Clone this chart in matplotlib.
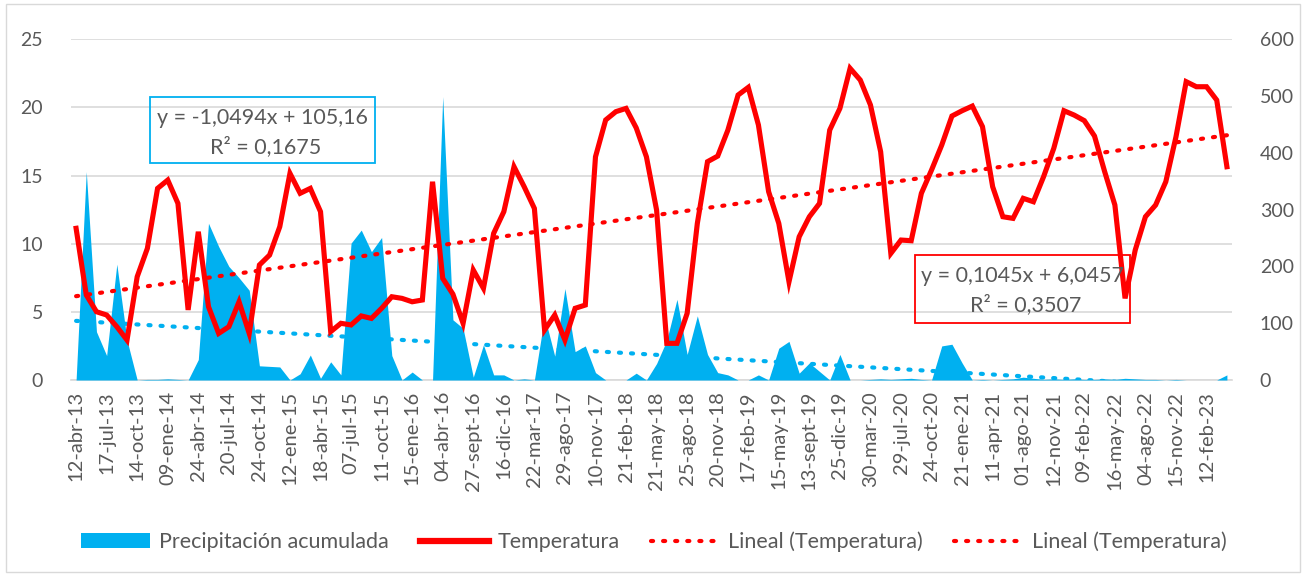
import numpy as np
import matplotlib
matplotlib.use("Agg")
import matplotlib.pyplot as plt
from matplotlib.patches import Rectangle, Patch
from matplotlib.lines import Line2D

plt.rcParams['font.family'] = ['Lato', 'DejaVu Sans']

# category labels (one every third point)
tick_labels = ["12-abr-13", "17-jul-13", "14-oct-13", "09-ene-14", "24-abr-14", "20-jul-14",
               "24-oct-14", "12-ene-15", "18-abr-15", "07-jul-15", "11-oct-15", "15-ene-16",
               "04-abr-16", "27-sept-16", "16-dic-16", "22-mar-17", "29-ago-17", "10-nov-17",
               "21-feb-18", "21-may-18", "25-ago-18", "20-nov-18", "17-feb-19", "15-may-19",
               "13-sept-19", "25-dic-19", "30-mar-20", "29-jul-20", "24-oct-20", "21-ene-21",
               "11-apr-21", "01-ago-21", "12-nov-21", "09-feb-22", "16-may-22", "04-ago-22",
               "15-nov-22", "12-feb-23"]

temperatura = [11.13, 6.24, 5.01, 4.77, 3.91, 2.93, 7.58, 9.66, 14.06, 14.67,
               12.96, 5.14, 10.88, 5.38, 3.42, 3.91, 5.74, 3.42, 8.44, 9.17,
               11.25, 15.16, 13.70, 14.06, 12.35, 3.55, 4.16, 4.04, 4.70, 4.52,
               5.26, 6.11, 5.99, 5.74, 5.87, 14.55, 7.46, 6.30, 4.16, 8.07,
               6.73, 10.76, 12.35, 15.65, 14.18, 12.59, 3.67, 4.77, 2.93, 5.26,
               5.50, 16.38, 19.08, 19.69, 19.93, 18.50, 16.38, 12.47, 2.69, 2.69,
               4.89, 11.49, 16.02, 16.43, 18.34, 20.91, 21.47, 18.71, 13.82, 11.49,
               7.21, 10.51, 11.98, 12.96, 18.34, 19.93, 22.87, 22.01, 20.18, 16.75,
               9.29, 10.27, 10.22, 13.70, 15.41, 17.24, 19.37, 19.76, 20.10, 18.59,
               14.18, 11.98, 11.86, 13.33, 13.08, 14.92, 17.00, 19.76, 19.44, 19.03,
               17.90, 15.28, 12.84, 5.99, 9.54, 11.98, 12.84, 14.55, 17.85, 21.89,
               21.52, 21.52, 20.54, 15.65]

precipitacion = [0, 367, 85, 43, 204, 70, 0, 1, 1, 2,
                 1, 0, 36, 276, 235, 200, 180, 158, 25, 24,
                 23, 0, 11, 44, 3, 32, 9, 241, 264, 226,
                 251, 43, 0, 14, 0, 0, 499, 106, 91, 5,
                 62, 9, 9, 0, 2, 0, 112, 42, 161, 50,
                 60, 13, 0, 0, 0, 12, 0, 29, 70, 142,
                 45, 113, 45, 13, 9, 0, 0, 9, 0, 56,
                 68, 12, 30, 15, 0, 45, 0, 0, 1, 2,
                 1, 2, 3, 1, 0, 60, 63, 30, 0, 1,
                 0, 1, 2, 5, 3, 1, 2, 1, 2, 1,
                 1, 2, 1, 3, 2, 1, 1, 0, 1, 0,
                 0, 0, 0, 9]

# trendline equations as printed on the chart
temp_slope, temp_icpt = 0.1045, 6.0457
prec_slope, prec_icpt = -1.0494, 105.16

RED = "#FF0000"
BLUE = "#00B0F0"
GRID = "#D9D9D9"
TXT = "#595959"
DOTS = (0, (0.5, 2.4))

n = len(temperatura)
x = np.arange(n)
xn = x + 1  # excel numbering for the trend equations

W, H = 1308, 574
fig = plt.figure(figsize=(W / 100, H / 100), dpi=100)
pos = [71 / W, 1 - 380 / H, (1232 - 71) / W, (380 - 39.3) / H]

ax = fig.add_axes(pos)
ax2 = ax.twinx()
ax3 = fig.add_axes(pos, sharex=ax)

# left axis: grid + ticks
ax.set_ylim(0, 25)
ax.set_yticks(range(0, 26, 5))
ax.yaxis.grid(True, color=GRID, lw=1.2)
ax.set_axisbelow(True)
for s in ["top", "right", "left"]:
    ax.spines[s].set_visible(False)
ax.spines["bottom"].set_color(GRID)
ax.spines["bottom"].set_linewidth(1.2)
ax.tick_params(axis="y", length=0, pad=20, labelsize=14, labelcolor=TXT)
ax.set_xlim(-0.5, n - 0.5)
ax.set_xticks(x[::3])
ax.set_xticklabels(tick_labels, rotation=90, fontsize=14.5, color=TXT)
ax.tick_params(axis="x", length=0, pad=8)

# right axis: precipitation area + its trend
ax2.fill_between(x, precipitacion, 0, color=BLUE, lw=0)
ax2.plot(x, prec_slope * xn + prec_icpt, color=BLUE, lw=3, ls=DOTS,
         dash_capstyle="round")
ax2.set_ylim(0, 600)
ax2.set_yticks(range(0, 601, 100))
for s in ax2.spines.values():
    s.set_visible(False)
ax2.tick_params(axis="y", length=0, pad=20, labelsize=14, labelcolor=TXT)

# temperature on top
ax3.set_ylim(0, 25)
ax3.axis("off")
ax3.patch.set_visible(False)
ax3.plot(x, temp_slope * xn + temp_icpt, color=RED, lw=3, ls=DOTS,
         dash_capstyle="round")
ax3.plot(x, temperatura, color=RED, lw=3.7, solid_joinstyle="miter")

# trend equation boxes
def eq_box(x0, y0, x1, y1, color, line1, line2):
    fig.add_artist(Rectangle((x0 / W, 1 - y1 / H), (x1 - x0) / W, (y1 - y0) / H,
                             transform=fig.transFigure, fill=False, edgecolor=color, lw=1.3))
    cx = (x0 + x1) / 2 / W
    fig.text(cx, 1 - (y0 + 21) / H, line1, ha="center", va="center", fontsize=15.5, color=TXT)
    fig.text(cx + 3 / W, 1 - (y0 + 50) / H, line2, ha="center", va="center", fontsize=15.5, color=TXT)

eq_box(150, 97, 375, 163, BLUE, "y = -1,0494x + 105,16", "R² = 0,1675")
eq_box(915, 255, 1130, 323, RED, "y = 0,1045x + 6,0457", "R² = 0,3507")

# legend
handles = [Patch(facecolor=BLUE, edgecolor="none"),
           Line2D([], [], color=RED, lw=4.5),
           Line2D([], [], color=RED, lw=3, ls=DOTS, dash_capstyle="round"),
           Line2D([], [], color=RED, lw=3, ls=DOTS, dash_capstyle="round")]
labels = ["Precipitación acumulada", "Temperatura", "Lineal (Temperatura)", "Lineal (Temperatura)"]
fig.legend(handles, labels, loc="center", bbox_to_anchor=(0.5, 1 - 542 / H), ncol=4,
           frameon=False, fontsize=15.5, labelcolor=TXT, handlelength=3.2, columnspacing=1.45,
           handletextpad=0.4)

# chart border
fig.add_artist(Rectangle((6 / W, 2 / H), (1300 - 6) / W, (570 - 2) / H,
                         transform=fig.transFigure, fill=False, edgecolor=GRID, lw=1))

fig.savefig("out.png", dpi=100)
